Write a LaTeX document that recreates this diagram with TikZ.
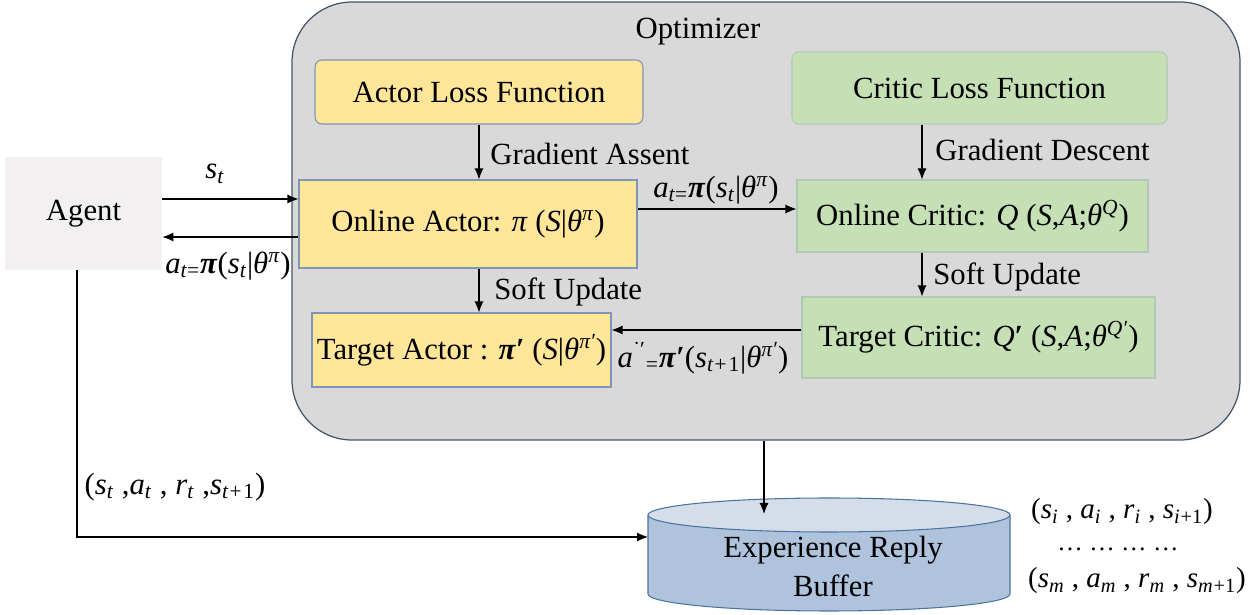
\documentclass[tikz,border=0pt]{standalone}
\usepackage{fontspec}
\setmainfont{Liberation Serif}
\usetikzlibrary{arrows.meta}

\definecolor{actorfill}{HTML}{FFE699}
\definecolor{criticfill}{HTML}{C5E0B4}
\definecolor{optfill}{HTML}{D9D9D9}
\definecolor{optline}{HTML}{44546A}
\definecolor{boxline}{HTML}{7F95B5}
\definecolor{agentfill}{HTML}{F2F0F0}
\definecolor{bufbody}{HTML}{B0C3DD}
\definecolor{buftop}{HTML}{D5DDE8}
\definecolor{bufline}{HTML}{4A74A0}

% italic letters, sub- and superscripts in text
\newcommand{\vi}[1]{\textit{#1}}
\newcommand{\sbs}[1]{\textsubscript{\textit{#1}}}
\newcommand{\sps}[1]{\textsuperscript{\textit{#1}}}
\newcommand{\bpi}{\textbf{\textit{π}}}

\begin{document}
\begin{tikzpicture}[
		every node/.style = {font=\fontsize{17.5}{20}\selectfont, inner sep=0pt},
		arr/.style 	= {-{Latex[length=2.2mm,width=1.8mm]}, line width=0.6pt, black},
		actorbox/.style = {draw=boxline, fill=actorfill, line width=0.6pt},
		criticbox/.style = {draw=criticfill!70!boxline, fill=criticfill, line width=0.6pt},
		tuple/.style = {font=\fontsize{16.5}{18}\selectfont}]
		 %\draw[help lines] (0,0) grid (25,12);
		 \useasboundingbox (0,0) rectangle (25.2,12.3);

		 \node[fill=agentfill, minimum width=3.14cm, minimum height=2.26cm] (agent) at (1.67,8.03) {Agent};

		 \node[draw=optline, fill=optfill, line width=0.7pt, rounded corners=1.2cm,
		 	minimum width=18.96cm, minimum height=8.76cm] (opt) at (15.32,7.88) {};
		 \node (optlbl) at (13.96,11.66) {Optimizer};

		 \node[actorbox, rounded corners=4pt, minimum width=6.56cm, minimum height=1.28cm] (aloss) at (9.58,10.46) {Actor Loss Function};
		 \node[criticbox, rounded corners=4pt, minimum width=7.5cm, minimum height=1.44cm] (closs) at (19.59,10.54) {Critic Loss Function};

		 \node[actorbox, minimum width=6.76cm, minimum height=1.76cm] (onactor) at (9.36,7.82)
		 	{Online Actor: \vi{π} (\vi{S}|\vi{θ}\sps{π})};
		 \node[criticbox, minimum width=7.02cm, minimum height=1.44cm] (oncritic) at (19.45,7.98)
		 	{Online Critic: \vi{Q} (\vi{S},\vi{A};\vi{θ}\sps{Q})};
		 \node[criticbox, minimum width=7.06cm, minimum height=1.62cm] (tcritic) at (19.57,5.55)
		 	{Target Critic: \vi{Q}\textbf{′} (\vi{S},\vi{A};\vi{θ}\sps{Q′})};
		 \node[actorbox, minimum width=5.98cm, minimum height=1.48cm] (tactor) at (9.23,5.3)
		 	{Target Actor : \bpi\textbf{′} (\vi{S}|\vi{θ}\sps{π′})};

		 % buffer
		 \fill[bufbody] (12.96,2.0) -- (12.96,0.42) arc[start angle=180, end angle=360, x radius=3.62, y radius=0.34]
		 	-- (20.2,2.0) arc[start angle=0, end angle=180, x radius=3.62, y radius=0.34] -- cycle;
		 \draw[bufline, line width=0.6pt] (12.96,2.0) -- (12.96,0.42) arc[start angle=180, end angle=360, x radius=3.62, y radius=0.34] -- (20.2,2.0);
		 \draw[bufline, fill=buftop, line width=0.6pt] (16.58,2.0) ellipse [x radius=3.62, y radius=0.34];
		 \node[align=center] (buf) at (16.66,0.97) {Experience Reply\\[2pt]Buffer};
		 \coordinate (buftopin) at (15.28,1.7);
		 \coordinate (bufleft) at (12.96,1.56);

		 \node[tuple] (bi) at (22.44,2.06) {(\vi{s}\sbs{i} , \vi{a}\sbs{i} , \vi{r}\sbs{i} , \vi{s}\sbs{i}\textsubscript{+1})};
		 \node[font=\fontsize{14.5}{15}\selectfont] (bdots) at (22.36,1.32) {… … … …};
		 \node[tuple] (bm) at (22.74,0.68) {(\vi{s}\sbs{m} , \vi{a}\sbs{m} , \vi{r}\sbs{m} , \vi{s}\sbs{m}\textsubscript{+1})};

		 % helper heights
		 \coordinate (yS) at (0,8.32);
		 \coordinate (yR) at (0,7.56);
		 \coordinate (yA) at (0,8.12);
		 \coordinate (yT) at (0,5.7);
		 \coordinate (xC) at (18.44,0);

		 \draw[arr] (aloss.south) -- (aloss.south |- onactor.north);
		 \node[anchor=west] (ga) at (9.8,9.22) {Gradient Assent};
		 \draw[arr] (onactor.south -| aloss.south) -- (tactor.north -| aloss.south);
		 \node[anchor=west] (su1) at (9.88,6.46) {Soft Update};

		 \draw[arr] (closs.south -| xC) -- (oncritic.north -| xC);
		 \node[anchor=west] (gd) at (18.7,9.3) {Gradient Descent};
		 \draw[arr] (oncritic.south -| xC) -- (tcritic.north -| xC);
		 \node[anchor=west] (su2) at (18.66,6.76) {Soft Update};

		 \draw[arr] (onactor.east |- yA) -- (oncritic.west |- yA);
		 \node (lblA) at (14.32,8.5) {\vi{a}\textsubscript{\vi{t}=}\bpi(\vi{s}\sbs{t}|\vi{θ}\sps{π})};
		 \draw[arr] (tcritic.west |- yT) -- (tactor.east |- yT);
		 \node (lblT) at (14.06,5.14) {\vi{a}\textsuperscript{˙′}\textsubscript{=}\bpi\textbf{′}(\vi{s}\sbs{t+}\textsubscript{1}|\vi{θ}\sps{π′})};

		 \draw[arr] (agent.east |- yS) -- (onactor.west |- yS);
		 \node (lblS) at (4.3,8.82) {\vi{s}\sbs{t}};
		 \draw[arr] (onactor.west |- yR) -- (agent.east |- yR);
		 \node (lblR) at (4.56,6.98) {\vi{a}\textsubscript{\vi{t}=}\bpi(\vi{s}\sbs{t}|\vi{θ}\sps{π})};

		 \draw[arr] (opt.south -| buftopin) -- (15.28,2.02);
		 \draw[arr] ([xshift=-0.13cm]agent.south) |- (bufleft);
		 \node (lblB) at (3.5,2.56) {(\vi{s}\sbs{t} ,\vi{a}\sbs{t} , \vi{r}\sbs{t} ,\vi{s}\sbs{t+}\textsubscript{1})};
		 \end{tikzpicture}
\end{document}
